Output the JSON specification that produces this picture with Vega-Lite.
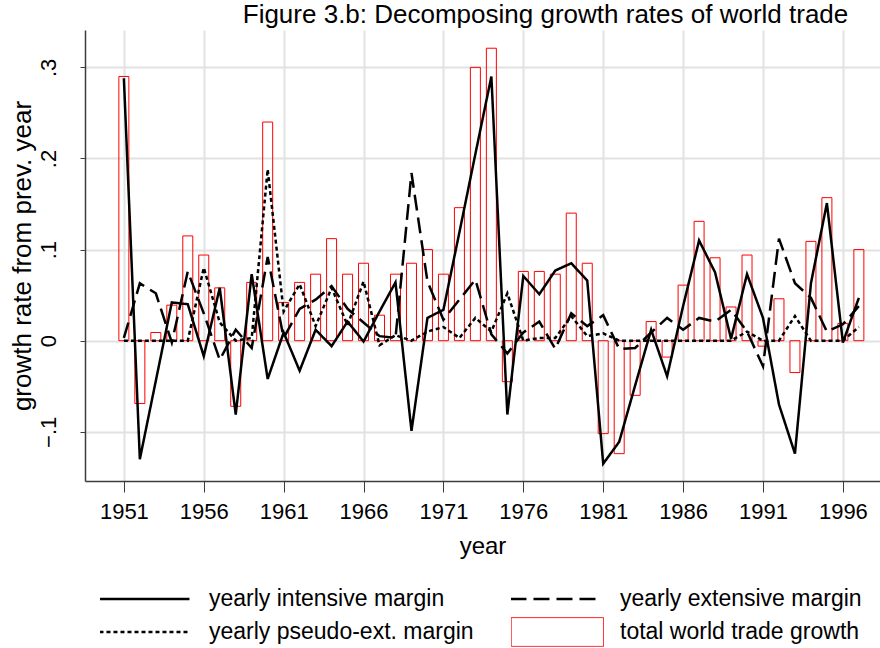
{
  "$schema": "https://vega.github.io/schema/vega-lite/v6.json",
  "width": 795,
  "height": 451,
  "autosize": {"type": "none"},
  "padding": {"left": 85, "top": 30, "right": 0, "bottom": 167},
  "background": "white",
  "config": {"font": "Liberation Sans", "view": {"stroke": null}},
  "title": {"text": "Figure 3.b: Decomposing growth rates of world trade", "fontSize": 26, "fontWeight": "normal", "font": "Liberation Sans", "color": "black", "dx": 63, "offset": 2},
  "datasets": {
    "trade": [
      {"year": 1951, "total": 0.290, "intensive": 0.288, "extensive": 0.003, "pseudo": 0},
      {"year": 1952, "total": -0.069, "intensive": -0.130, "extensive": 0.063, "pseudo": 0},
      {"year": 1953, "total": 0.009, "intensive": -0.044, "extensive": 0.052, "pseudo": 0},
      {"year": 1954, "total": 0.039, "intensive": 0.042, "extensive": -0.002, "pseudo": 0},
      {"year": 1955, "total": 0.115, "intensive": 0.040, "extensive": 0.076, "pseudo": 0},
      {"year": 1956, "total": 0.094, "intensive": -0.017, "extensive": 0.030, "pseudo": 0.080},
      {"year": 1957, "total": 0.058, "intensive": 0.058, "extensive": -0.021, "pseudo": 0.020},
      {"year": 1958, "total": -0.072, "intensive": -0.081, "extensive": 0.012, "pseudo": 0},
      {"year": 1959, "total": 0.064, "intensive": 0.073, "extensive": -0.008, "pseudo": 0.003},
      {"year": 1960, "total": 0.240, "intensive": -0.042, "extensive": 0.092, "pseudo": 0.188},
      {"year": 1961, "total": 0.042, "intensive": 0.009, "extensive": 0.003, "pseudo": 0.032},
      {"year": 1962, "total": 0.064, "intensive": -0.033, "extensive": 0.035, "pseudo": 0.062},
      {"year": 1963, "total": 0.073, "intensive": 0.012, "extensive": 0.045, "pseudo": 0.016},
      {"year": 1964, "total": 0.112, "intensive": -0.006, "extensive": 0.060, "pseudo": 0.058},
      {"year": 1965, "total": 0.073, "intensive": 0.021, "extensive": 0.035, "pseudo": 0.017},
      {"year": 1966, "total": 0.085, "intensive": -0.001, "extensive": 0.020, "pseudo": 0.065},
      {"year": 1967, "total": 0.028, "intensive": 0.032, "extensive": 0.005, "pseudo": -0.005},
      {"year": 1968, "total": 0.073, "intensive": 0.064, "extensive": 0.003, "pseudo": 0.006},
      {"year": 1969, "total": 0.085, "intensive": -0.099, "extensive": 0.184, "pseudo": 0},
      {"year": 1970, "total": 0.100, "intensive": 0.025, "extensive": 0.065, "pseudo": 0.010},
      {"year": 1971, "total": 0.073, "intensive": 0.034, "extensive": 0.023, "pseudo": 0.015},
      {"year": 1972, "total": 0.146, "intensive": 0.119, "extensive": 0.045, "pseudo": 0.003},
      {"year": 1973, "total": 0.300, "intensive": 0.205, "extensive": 0.067, "pseudo": 0.025},
      {"year": 1974, "total": 0.321, "intensive": 0.290, "extensive": 0.007, "pseudo": 0.010},
      {"year": 1975, "total": -0.045, "intensive": -0.081, "extensive": -0.014, "pseudo": 0.052},
      {"year": 1976, "total": 0.076, "intensive": 0.071, "extensive": 0.009, "pseudo": 0.000},
      {"year": 1977, "total": 0.076, "intensive": 0.051, "extensive": 0.021, "pseudo": 0.003},
      {"year": 1978, "total": 0.073, "intensive": 0.077, "extensive": -0.009, "pseudo": 0.003},
      {"year": 1979, "total": 0.140, "intensive": 0.085, "extensive": 0.030, "pseudo": 0.027},
      {"year": 1980, "total": 0.085, "intensive": 0.066, "extensive": 0.016, "pseudo": 0.005},
      {"year": 1981, "total": -0.102, "intensive": -0.135, "extensive": 0.028, "pseudo": 0.008},
      {"year": 1982, "total": -0.124, "intensive": -0.111, "extensive": -0.009, "pseudo": 0},
      {"year": 1983, "total": -0.060, "intensive": -0.049, "extensive": -0.008, "pseudo": 0},
      {"year": 1984, "total": 0.021, "intensive": 0.012, "extensive": 0.009, "pseudo": 0},
      {"year": 1985, "total": -0.018, "intensive": -0.039, "extensive": 0.025, "pseudo": 0},
      {"year": 1986, "total": 0.061, "intensive": 0.038, "extensive": 0.012, "pseudo": 0},
      {"year": 1987, "total": 0.131, "intensive": 0.110, "extensive": 0.025, "pseudo": 0},
      {"year": 1988, "total": 0.091, "intensive": 0.075, "extensive": 0.021, "pseudo": 0},
      {"year": 1989, "total": 0.037, "intensive": 0.002, "extensive": 0.034, "pseudo": 0},
      {"year": 1990, "total": 0.094, "intensive": 0.073, "extensive": 0.010, "pseudo": 0.010},
      {"year": 1991, "total": -0.006, "intensive": 0.025, "extensive": -0.028, "pseudo": 0},
      {"year": 1992, "total": 0.046, "intensive": -0.070, "extensive": 0.112, "pseudo": 0},
      {"year": 1993, "total": -0.035, "intensive": -0.124, "extensive": 0.063, "pseudo": 0.027},
      {"year": 1994, "total": 0.109, "intensive": 0.063, "extensive": 0.047, "pseudo": 0},
      {"year": 1995, "total": 0.157, "intensive": 0.151, "extensive": 0.010, "pseudo": 0},
      {"year": 1996, "total": 0.019, "intensive": -0.002, "extensive": 0.018, "pseudo": 0},
      {"year": 1997, "total": 0.100, "intensive": 0.047, "extensive": 0.038, "pseudo": 0.015}
    ]
  },
  "data": {"name": "trade"},
  "layer": [
    {
      "mark": {"type": "bar", "width": 10, "fill": "transparent", "strokeWidth": 1},
      "encoding": {
        "x": {
          "field": "year", "type": "quantitative",
          "scale": {"domain": [1948.88, 1998.01], "nice": false, "zero": false},
          "axis": {
            "values": [1951, 1956, 1961, 1966, 1971, 1976, 1981, 1986, 1991, 1996],
            "format": "d", "title": "year",
            "grid": true, "gridColor": "#e2e2e2", "gridWidth": 2,
            "domainColor": "#3c3c3c", "domainWidth": 1.5,
            "tickColor": "#3c3c3c", "tickSize": 11, "tickWidth": 1,
            "labelFontSize": 22, "labelColor": "black", "labelPadding": 9,
            "labelFlush": false, "labelOverlap": false,
            "titleFontSize": 24, "titleFontWeight": "normal", "titleColor": "black", "titlePadding": 12
          }
        },
        "y": {
          "field": "total", "type": "quantitative",
          "scale": {"domain": [-0.154, 0.341], "nice": false},
          "axis": {
            "values": [-0.1, 0, 0.1, 0.2, 0.3],
            "labelExpr": "datum.value == 0 ? '0' : replace(format(datum.value, '.1f'), '0.', '.')",
            "title": "growth rate from prev. year",
            "grid": true, "gridColor": "#e2e2e2", "gridWidth": 2,
            "domainColor": "#3c3c3c", "domainWidth": 1.5,
            "tickColor": "#3c3c3c", "tickSize": 5, "tickWidth": 1,
            "labelAngle": 270, "labelAlign": "center", "labelBaseline": "bottom",
            "labelFontSize": 22, "labelColor": "black", "labelPadding": 20,
            "titleFontSize": 26, "titleFontWeight": "normal", "titleColor": "black", "titlePadding": 2
          }
        },
        "stroke": {
          "datum": "total", "type": "nominal",
          "scale": {"domain": ["intensive", "pseudo", "extensive", "total"], "range": ["black", "black", "black", "#ff0000"]},
          "legend": {
            "orient": "none", "legendX": 15, "legendY": 554,
            "columns": 2, "columnPadding": 37, "rowPadding": 3, "clipHeight": 30,
            "symbolSize": 8100, "symbolType": "stroke", "symbolStrokeWidth": 2.5,
            "labelFontSize": 23, "labelOffset": 86, "labelFont": "Liberation Sans", "labelColor": "black",
            "labelLimit": 400, "title": null, "padding": 0,
            "labelExpr": "datum.value == 'intensive' ? 'yearly intensive margin' : datum.value == 'extensive' ? 'yearly extensive margin' : datum.value == 'pseudo' ? 'yearly pseudo-ext. margin' : 'total world trade growth'",
            "encode": {
              "symbols": {
                "update": {
                  "shape": {"signal": "datum.value == 'total' ? 'M-0.25,-0.32L1.8,-0.32L1.8,0.32L-0.25,0.32Z' : 'M-0.267,0L1.733,0'"},
                  "strokeDash": {"signal": "datum.value == 'extensive' ? [16,7] : datum.value == 'pseudo' ? [4,3] : [1,0]"},
                  "strokeWidth": {"signal": "datum.value == 'total' ? 1 : 2.5"},
                  "fill": {"value": "transparent"}
                }
              }
            }
          }
        }
      }
    },
    {
      "transform": [{"fold": ["intensive", "extensive", "pseudo"], "as": ["series", "value"]}],
      "mark": {"type": "line", "strokeWidth": 2.5},
      "encoding": {
        "x": {"field": "year", "type": "quantitative"},
        "y": {"field": "value", "type": "quantitative"},
        "stroke": {
          "field": "series", "type": "nominal",
          "scale": {"domain": ["intensive", "pseudo", "extensive", "total"], "range": ["black", "black", "black", "#ff0000"]},
          "legend": {
            "orient": "none", "legendX": 15, "legendY": 554,
            "columns": 2, "columnPadding": 37, "rowPadding": 3, "clipHeight": 30,
            "symbolSize": 8100, "symbolType": "stroke", "symbolStrokeWidth": 2.5,
            "labelFontSize": 23, "labelOffset": 86, "labelFont": "Liberation Sans", "labelColor": "black",
            "labelLimit": 400, "title": null, "padding": 0,
            "labelExpr": "datum.value == 'intensive' ? 'yearly intensive margin' : datum.value == 'extensive' ? 'yearly extensive margin' : datum.value == 'pseudo' ? 'yearly pseudo-ext. margin' : 'total world trade growth'",
            "encode": {
              "symbols": {
                "update": {
                  "shape": {"signal": "datum.value == 'total' ? 'M-0.25,-0.32L1.8,-0.32L1.8,0.32L-0.25,0.32Z' : 'M-0.267,0L1.733,0'"},
                  "strokeDash": {"signal": "datum.value == 'extensive' ? [16,7] : datum.value == 'pseudo' ? [4,3] : [1,0]"},
                  "strokeWidth": {"signal": "datum.value == 'total' ? 1 : 2.5"},
                  "fill": {"value": "transparent"}
                }
              }
            }
          }
        },
        "strokeDash": {
          "field": "series", "type": "nominal",
          "scale": {"domain": ["intensive", "extensive", "pseudo"], "range": [[1, 0], [16, 7], [4, 3]]},
          "legend": null
        }
      }
    }
  ]
}
